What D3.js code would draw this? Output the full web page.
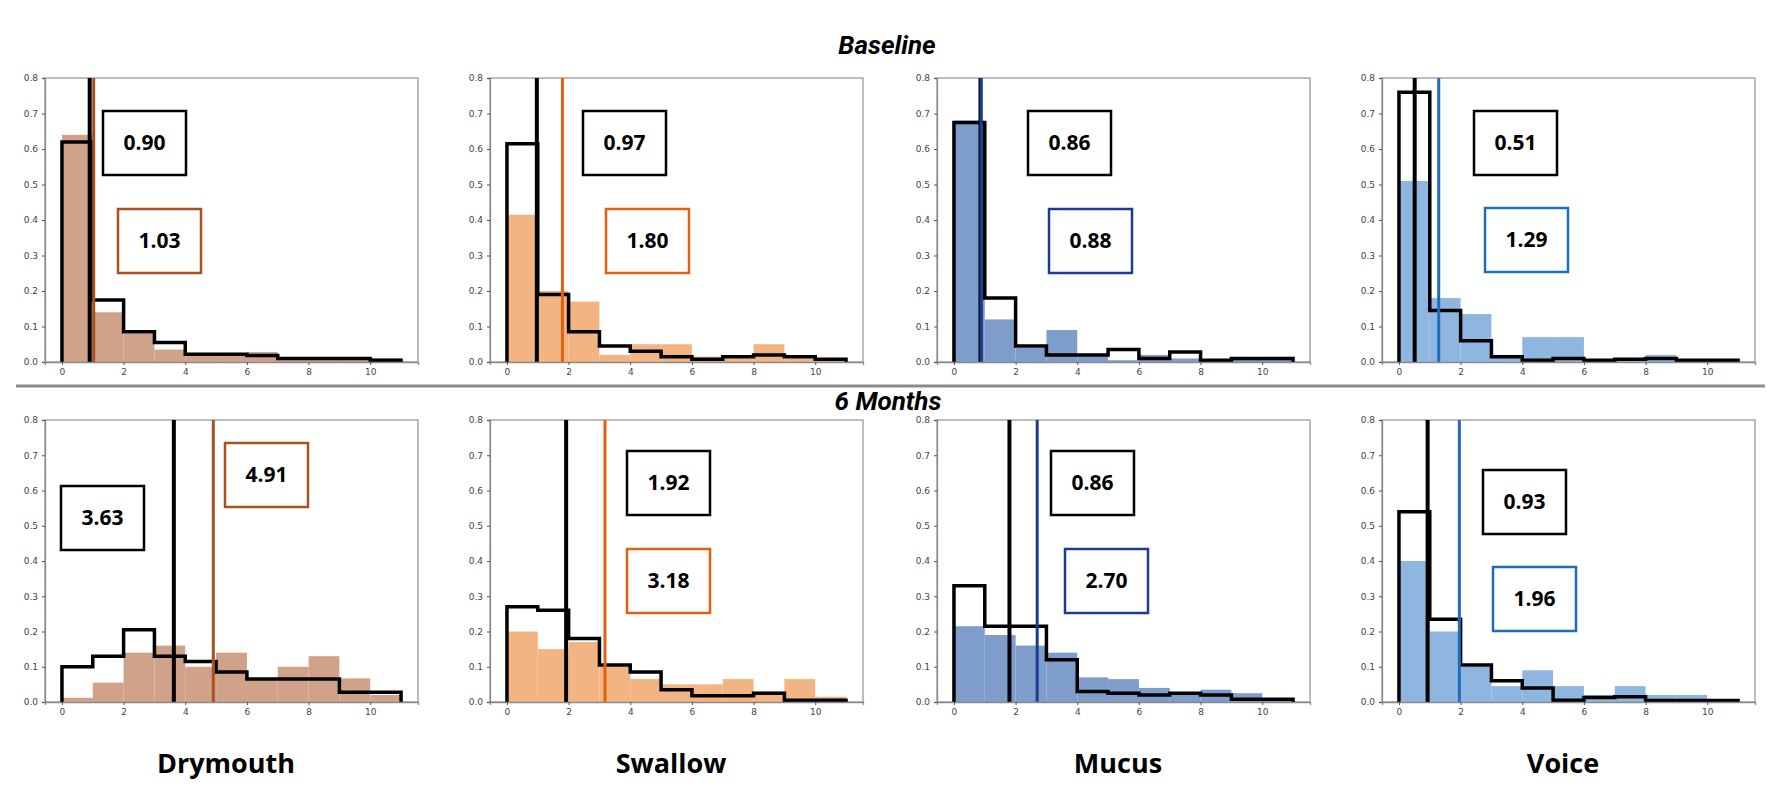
<!DOCTYPE html>
<html>
<head>
<meta charset="utf-8">
<script src="https://cdn.jsdelivr.net/npm/d3@7"></script>
<style>
body { margin: 0; background: #fff; }
svg { display: block; }
.tick text { font-family: "DejaVu Sans", sans-serif; font-size: 9px; fill: #444; }
</style>
</head>
<body>
<svg id="chart" width="1772" height="806"></svg>
<script>
// categories
var symptoms = ["Drymouth", "Swallow", "Mucus", "Voice"];
var periods = ["Baseline", "6 Months"];
var xTicks = [0, 2, 4, 6, 8, 10];
var yTicks = [0, 0.1, 0.2, 0.3, 0.4, 0.5, 0.6, 0.7, 0.8];
var binStarts = [0, 1, 2, 3, 4, 5, 6, 7, 8, 9, 10];

// baseline histograms (filled = coloured group, step = black group)
var drymouthBaseFill = [0.64, 0.14, 0.08, 0.035, 0.02, 0.02, 0.028, 0.01, 0.01, 0.01, 0.01];
var drymouthBaseStep = [0.62, 0.175, 0.085, 0.055, 0.022, 0.022, 0.018, 0.01, 0.01, 0.01, 0.005];
var swallowBaseFill = [0.415, 0.20, 0.17, 0.02, 0.05, 0.05, 0.015, 0.01, 0.05, 0.01, 0.005];
var swallowBaseStep = [0.615, 0.19, 0.085, 0.045, 0.03, 0.015, 0.008, 0.015, 0.02, 0.015, 0.008];
var mucusBaseFill = [0.68, 0.12, 0.04, 0.09, 0.02, 0.005, 0.02, 0.01, 0.005, 0.01, 0.01];
var mucusBaseStep = [0.675, 0.18, 0.045, 0.02, 0.02, 0.035, 0.01, 0.028, 0.005, 0.01, 0.01];
var voiceBaseFill = [0.51, 0.18, 0.135, 0.02, 0.07, 0.07, 0.005, 0.01, 0.02, 0.005, 0];
var voiceBaseStep = [0.76, 0.145, 0.06, 0.015, 0.005, 0.01, 0.005, 0.008, 0.01, 0.005, 0.005];

// 6 month histograms
var drymouth6Fill = [0.012, 0.055, 0.14, 0.16, 0.10, 0.14, 0.065, 0.10, 0.13, 0.067, 0.02];
var drymouth6Step = [0.10, 0.13, 0.205, 0.13, 0.115, 0.085, 0.065, 0.065, 0.065, 0.028, 0.028];
var swallow6Fill = [0.20, 0.15, 0.17, 0.10, 0.065, 0.05, 0.05, 0.065, 0.03, 0.065, 0.015];
var swallow6Step = [0.27, 0.26, 0.18, 0.105, 0.085, 0.035, 0.018, 0.018, 0.025, 0.005, 0.005];
var mucus6Fill = [0.215, 0.19, 0.16, 0.14, 0.07, 0.065, 0.04, 0.025, 0.035, 0.025, 0.005];
var mucus6Step = [0.33, 0.215, 0.215, 0.12, 0.03, 0.025, 0.02, 0.025, 0.02, 0.008, 0.008];
var voice6Fill = [0.40, 0.20, 0.10, 0.045, 0.09, 0.045, 0.02, 0.045, 0.02, 0.02, 0];
var voice6Step = [0.54, 0.235, 0.105, 0.06, 0.04, 0.005, 0.013, 0.015, 0.004, 0.004, 0.004];

// mean lines and box labels, [row][column]
var meanBlack = [[0.90, 0.97, 0.86, 0.51], [3.63, 1.92, 1.80, 0.93]];
var meanColor = [[1.03, 1.80, 0.88, 1.29], [4.91, 3.18, 2.70, 1.96]];
var labelBlack = [["0.90", "0.97", "0.86", "0.51"], ["3.63", "1.92", "0.86", "0.93"]];
var labelColor = [["1.03", "1.80", "0.88", "1.29"], ["4.91", "3.18", "2.70", "1.96"]];

var fills = [
	[drymouthBaseFill, swallowBaseFill, mucusBaseFill, voiceBaseFill],
	[drymouth6Fill, swallow6Fill, mucus6Fill, voice6Fill]
];
var steps = [
	[drymouthBaseStep, swallowBaseStep, mucusBaseStep, voiceBaseStep],
	[drymouth6Step, swallow6Step, mucus6Step, voice6Step]
];

// styles / layout
var fillColors = ["#d0a28a", "#f2b482", "#7f9dcb", "#8eb6e0"];
var lineColors = ["#a9501f", "#e2600f", "#1c3c93", "#1f6cbd"];
var panelLeft = [45, 490, 937, 1382];
var panelW = 373;
var rowTop = [78, 420];
var rowH = [284, 282];
var boxW = 83, boxH = 64;
// box offsets from panel top-left, [row][column] = [x, y]
var boxBlackPos = [[[58, 33], [93, 33], [91, 33], [92, 33]], [[16, 66], [137, 31], [114, 31], [101, 50]]];
var boxColorPos = [[[73, 131], [116, 131], [112, 131], [103, 130]], [[180, 23], [137, 129], [128, 129], [111, 147]]];

var svg = d3.select("#chart");

var x = d3.scaleLinear().domain([-0.55, 11.55]).range([0, panelW]);

svg.append("text")
	.attr("x", 887).attr("y", 54)
	.attr("text-anchor", "middle")
	.style("font-family", "Roboto, sans-serif")
	.style("font-weight", "700").style("font-style", "italic")
	.style("font-size", "26px")
	.text(periods[0]);

svg.append("line")
	.attr("x1", 16).attr("x2", 1765)
	.attr("y1", 386).attr("y2", 386)
	.attr("stroke", "#8a8a8a").attr("stroke-width", 3);

svg.append("text")
	.attr("x", 888).attr("y", 410)
	.attr("text-anchor", "middle")
	.style("font-family", "Roboto, sans-serif")
	.style("font-weight", "700").style("font-style", "italic")
	.style("font-size", "26px")
	.text(periods[1]);

for (var r = 0; r < 2; r++) {
	for (var c = 0; c < 4; c++) {
		drawPanel(r, c);
	}
}

symptoms.forEach(function(s, c) {
	svg.append("text")
		.attr("x", panelLeft[c] + 181).attr("y", 773)
		.attr("text-anchor", "middle")
		.style("font-family", "'Open Sans', sans-serif")
		.style("font-weight", "700")
		.style("font-size", "27px")
		.text(s);
});

function drawPanel(r, c) {
	var h = rowH[r];
	var y = d3.scaleLinear().domain([0, 0.8]).range([h, 0]);
	var g = svg.append("g").attr("transform", "translate(" + panelLeft[c] + "," + rowTop[r] + ")");

	// frame
	g.append("rect")
		.attr("width", panelW).attr("height", h)
		.attr("fill", "none").attr("stroke", "#9a9a9a").attr("stroke-width", 1.3);

	// filled histogram
	g.selectAll(".bar")
		.data(fills[r][c])
		.enter().append("rect")
		.attr("class", "bar")
		.attr("x", function(d, i) { return x(binStarts[i]); })
		.attr("width", function(d, i) { return x(binStarts[i] + 1) - x(binStarts[i]); })
		.attr("y", function(d) { return y(d); })
		.attr("height", function(d) { return h - y(d); })
		.attr("fill", fillColors[c]);

	// step outline
	var st = steps[r][c];
	var pts = [[0, 0]];
	st.forEach(function(v, i) { pts.push([binStarts[i], v]); });
	pts.push([11, st[st.length - 1]]);
	pts.push([11, 0]);
	var line = d3.line()
		.x(function(d) { return x(d[0]); })
		.y(function(d) { return y(d[1]); })
		.curve(d3.curveStepAfter);
	g.append("path")
		.attr("d", line(pts))
		.attr("fill", "none").attr("stroke", "#000")
		.attr("stroke-width", 3.5).attr("stroke-linejoin", "miter");

	// mean lines
	g.append("line")
		.attr("x1", x(meanBlack[r][c])).attr("x2", x(meanBlack[r][c]))
		.attr("y1", 0).attr("y2", h)
		.attr("stroke", "#000").attr("stroke-width", 4);
	g.append("line")
		.attr("x1", x(meanColor[r][c])).attr("x2", x(meanColor[r][c]))
		.attr("y1", 0).attr("y2", h)
		.attr("stroke", lineColors[c]).attr("stroke-width", 3);

	// axes
	var ya = g.append("g").call(d3.axisLeft(y).tickValues(yTicks).tickSize(3).tickPadding(4).tickFormat(d3.format(".1f")));
	var xa = g.append("g").attr("transform", "translate(0," + h + ")")
		.call(d3.axisBottom(x).tickValues(xTicks).tickSize(3).tickPadding(4));
	[ya, xa].forEach(function(a) {
		a.select(".domain").attr("stroke", "#8a8a8a").attr("stroke-width", 1.3);
		a.selectAll(".tick line").attr("stroke", "#555");
	});

	// value boxes
	drawBox(g, boxBlackPos[r][c], "#000", labelBlack[r][c]);
	drawBox(g, boxColorPos[r][c], lineColors[c], labelColor[r][c]);
}

function drawBox(g, pos, color, label) {
	g.append("rect")
		.attr("x", pos[0]).attr("y", pos[1])
		.attr("width", boxW).attr("height", boxH)
		.attr("fill", "#fff").attr("stroke", color).attr("stroke-width", 2.5);
	g.append("text")
		.attr("x", pos[0] + boxW / 2).attr("y", pos[1] + boxH / 2 + 7)
		.attr("text-anchor", "middle")
		.style("font-family", "'Open Sans', sans-serif")
		.style("font-weight", "700")
		.style("font-size", "21px")
		.text(label);
}
</script>
</body>
</html>
